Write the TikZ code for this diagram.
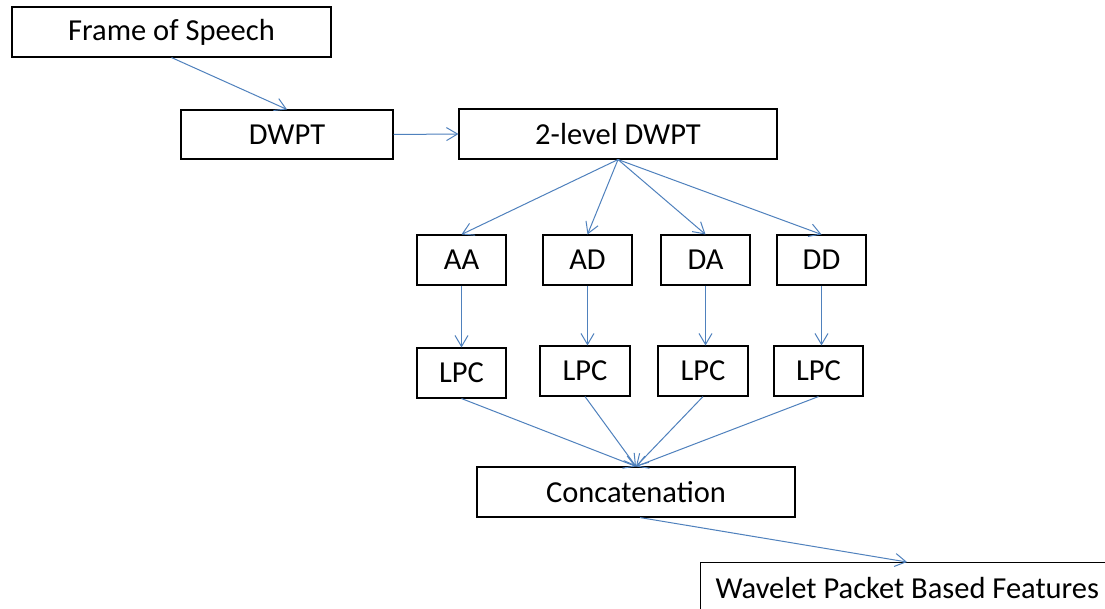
\documentclass[tikz,border=0pt]{standalone}
\usepackage{fontspec}
\setmainfont{Carlito}
\usetikzlibrary{arrows.meta,calc}
\definecolor{linkblue}{RGB}{79,129,189}
\tikzset{
  stage/.style={draw=black, line width=1.1pt, fill=white, inner sep=0pt,
    minimum height=50pt, font=\fontsize{30.5}{36}\selectfont},
  link/.style={draw=linkblue, line width=1pt,
    -{Straight Barb[length=11pt,width=13pt,line width=1pt]}}
}
\begin{document}
\begin{tikzpicture}[x=1pt,y=-1pt]
\useasboundingbox (0,0) rectangle (1105,608);
\clip (0,0) rectangle (1105,608);
\fill[white] (0,0) rectangle (1105,608);

% processing stages
\node[stage, minimum width=319pt] (frame) at (171.5,32) {Frame of Speech};
\node[stage, minimum width=212pt, minimum height=49pt] (dwpt) at (287,134.5) {DWPT};
\node[stage, minimum width=318pt] (lvl) at (618,134) {2-level DWPT};

\node[stage, minimum width=89pt] (aa) at (461.5,260) {AA};
\node[stage, minimum width=89pt] (ad) at (587.5,260) {AD};
\node[stage, minimum width=89pt] (da) at (705.5,260) {DA};
\node[stage, minimum width=89pt] (dd) at (821.5,260) {DD};

\node[stage, minimum width=89pt] (lpca) at (461.5,373) {LPC};
\node[stage, minimum width=90pt] (lpcb) at (585,371) {LPC};
\node[stage, minimum width=90pt] (lpcc) at (703,371) {LPC};
\node[stage, minimum width=89pt] (lpcd) at (818.5,371) {LPC};

\node[stage, minimum width=318pt] (cat) at (636,492) {Concatenation};
\node[stage, anchor=north west, inner xsep=15pt] (feat) at (700,562)
  {Wavelet Packet Based Features};
\coordinate (featin) at ($(feat.north west)+(207,0)$);

% connectors
\draw[link] (frame.south) -- (dwpt.north);
\draw[link] (dwpt.east) -- (lvl.west);
\foreach \b in {aa,ad,da,dd}
  \draw[link] (lvl.south) -- (\b.north);
\draw[link] (aa.south) -- (aa.south |- lpca.north);
\draw[link] (ad.south) -- (ad.south |- lpcb.north);
\draw[link] (da.south) -- (da.south |- lpcc.north);
\draw[link] (dd.south) -- (dd.south |- lpcd.north);
\foreach \l in {lpca,lpcb,lpcc,lpcd}
  \draw[link] (\l.south) -- (cat.north);
\draw[link] ($(cat.south)+(4,0)$) -- (featin);
\end{tikzpicture}
\end{document}
